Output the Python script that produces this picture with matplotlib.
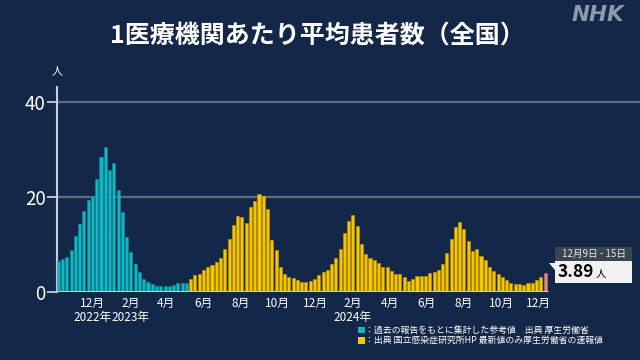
import matplotlib
matplotlib.use('Agg')
import matplotlib.pyplot as plt
import pandas as pd
from matplotlib.patches import Rectangle, Polygon
from matplotlib.transforms import blended_transform_factory

plt.rcParams['font.family'] = ['Noto Sans CJK JP', 'DejaVu Sans']

# ---------------- data ----------------
first_week = '2022-10-03'   # Monday of first weekly bar
ref_values = [6.5, 6.8, 7.3, 8.8, 11.8, 14.2, 17.1, 19.3, 20.1, 23.8,
              28.3, 30.4, 25.7, 27.2, 21.5, 16.8, 11.5, 8.4, 5.8, 4.1,
              2.7, 2.1, 1.6, 1.3, 1.2, 1.2, 1.25, 1.35, 1.75, 1.8, 1.8]
niid_values = [2.7, 3.6, 3.65, 4.6, 5.1, 5.6, 6.2, 7.2, 9.1, 11.1,
               14.0, 15.9, 15.8, 14.4, 17.9, 19.1, 20.6, 20.2, 17.5, 11.0,
               8.8, 5.2, 3.7, 3.2, 2.8, 2.5, 2.0, 2.0, 2.3, 2.7,
               3.5, 4.2, 4.6, 5.8, 7.0, 9.1, 12.3, 14.9, 16.2, 13.8,
               10.1, 7.9, 7.0, 6.6, 6.1, 5.2, 5.1, 4.3, 3.7, 3.65,
               3.2, 2.25, 2.75, 3.3, 3.3, 3.4, 4.0, 4.2, 4.6, 5.8,
               8.1, 11.2, 13.7, 14.6, 13.3, 10.7, 8.6, 8.9, 7.5, 6.7,
               5.3, 4.35, 3.7, 3.2, 2.4, 1.9, 1.7, 1.55, 1.4, 1.9,
               1.9, 2.45, 3.1, 3.89]
month_ticks = ['2022-12-01', '2023-02-01', '2023-04-01', '2023-06-01', '2023-08-01',
               '2023-10-01', '2023-12-01', '2024-02-01', '2024-04-01', '2024-06-01',
               '2024-08-01', '2024-10-01', '2024-12-01']
month_labels = ['12月', '2月', '4月', '6月', '8月', '10月', '12月',
                '2月', '4月', '6月', '8月', '10月', '12月']
year_ticks = ['2022-12-01', '2023-02-01', '2024-02-01']
year_labels = ['2022年', '2023年', '2024年']
y_ticks = [0, 20, 40]
latest_label = '12月9日 - 15日'
latest_value = 3.89
title = '1医療機関あたり平均患者数（全国）'
legend_texts = ['：過去の報告をもとに集計した参考値　出典 厚生労働省',
                '：出典 国立感染症研究所HP 最新値のみ厚生労働省の速報値']

# ---------------- style ----------------
BG = '#132848'
CYAN = '#12b6c2'
CYAN_E = '#0b8f99'
YEL = '#f7c600'
YEL_E = '#c79a00'
PINK = '#e8868e'
GRID = '#5d6b80'
AXIS = '#c9cdd3'

W, H = 640, 360
fig = plt.figure(figsize=(6.4, 3.6), dpi=100)
fig.patch.set_facecolor(BG)

ax_left, ax_bottom, ax_top = 56.7, 291.7, 86.7
ax = fig.add_axes([ax_left / W, (H - ax_bottom) / H, 1 - ax_left / W, (ax_bottom - ax_top) / H])
ax.set_facecolor(BG)

start = pd.Timestamp(first_week) + pd.Timedelta(days=3)
def pos(d):
    return (pd.Timestamp(d) - start).days / 7.0

n_ref = len(ref_values)
n_all = n_ref + len(niid_values)
x_ref = list(range(n_ref))
x_niid = list(range(n_ref, n_all))

colors = [YEL] * (len(niid_values) - 1) + [PINK]
edges = [YEL_E] * (len(niid_values) - 1) + ['#c56a72']
bw = 0.72
ax.bar(x_ref, ref_values, width=bw, color=CYAN, edgecolor=CYAN_E, linewidth=0.4, zorder=3)
ax.bar(x_niid, niid_values, width=bw, color=colors, edgecolor=edges, linewidth=0.4, zorder=3)

scale = 4.27
xl = -(58.3 - ax_left) / scale
xr = xl + (W - ax_left) / scale
ax.set_xlim(xl, xr)
ax.set_ylim(0, 43.2)

for yv in y_ticks[1:]:
    ax.axhline(yv, color=GRID, lw=1.6, zorder=1)
ax.plot([xl, n_all - 0.3], [0, 0], color=AXIS, lw=2.2, zorder=4, solid_capstyle='butt')

for s in ['top', 'right', 'bottom']:
    ax.spines[s].set_visible(False)
ax.spines['left'].set_color(AXIS)
ax.spines['left'].set_linewidth(1.5)

ax.set_yticks(y_ticks)
ax.set_yticklabels([str(v) for v in y_ticks])
ax.tick_params(axis='y', colors=AXIS, length=7, width=1.3, pad=1, labelsize=13.5, labelcolor='white')

ax.set_xticks([pos(d) for d in month_ticks])
ax.set_xticklabels(month_labels)
ax.tick_params(axis='x', length=0, pad=4, labelsize=8.5, labelcolor='white')

tr = blended_transform_factory(ax.transData, fig.transFigure)
for d, lab in zip(year_ticks, year_labels):
    ax.text(pos(d), (H - 318) / H, lab, transform=tr, ha='center', va='center',
            fontsize=8.5, color='white')

fig.text(57 / W, (H - 71) / H, '人', ha='center', va='center', fontsize=8, color='white')

fig.text(317 / W, (H - 37) / H, title, ha='center', va='center', fontsize=18,
         fontweight='bold', color='white')
fig.text(598 / W, (H - 15) / H, 'NHK', ha='center', va='center', fontsize=15.5,
         fontweight='bold', style='italic', color='#8d9aab', family='DejaVu Sans')

# legend
for i, (c, t) in enumerate(zip([CYAN, YEL], legend_texts)):
    yc = 330 + i * 10.5
    fig.patches.append(Rectangle((358 / W, (H - yc - 3.2) / H), 6.5 / W, 6.5 / H,
                                 transform=fig.transFigure, facecolor=c, edgecolor='none'))
    fig.text(365 / W, (H - yc) / H, t, ha='left', va='center', fontsize=6.4, color='white')

# callout
fig.patches.append(Rectangle((555 / W, (H - 261) / H), 77 / W, 14 / H,
                             transform=fig.transFigure, facecolor='#3b4552', edgecolor='none'))
fig.text(593.5 / W, (H - 254) / H, latest_label, ha='center', va='center',
         fontsize=7, color='#e6e6e6')
fig.patches.append(Rectangle((555 / W, (H - 283) / H), 77 / W, 22 / H,
                             transform=fig.transFigure, facecolor='#f1f1f1', edgecolor='none'))
fig.patches.append(Polygon([(549 / W, (H - 263) / H), (555 / W, (H - 263) / H), (555 / W, (H - 270) / H)],
                           closed=True, transform=fig.transFigure, facecolor='#f1f1f1', edgecolor='none'))
fig.text(558 / W, (H - 272) / H, f'{latest_value:.2f}', ha='left', va='center',
         fontsize=12.5, fontweight='bold', color='black')
fig.text(596 / W, (H - 274) / H, '人', ha='left', va='center', fontsize=7.5, color='black')

fig.savefig('out.png', dpi=100, facecolor=BG)
